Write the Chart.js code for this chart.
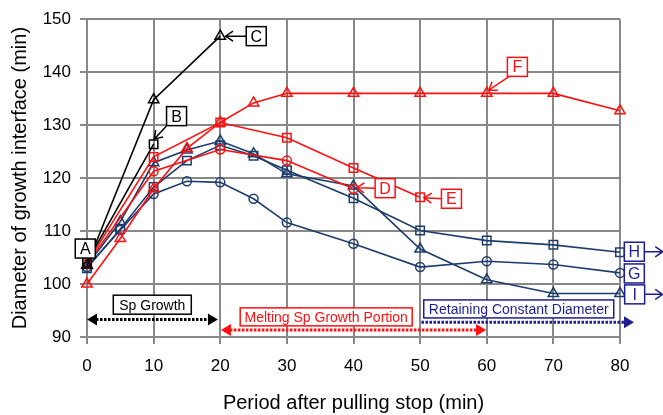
<!DOCTYPE html>
<html>
<head>
<meta charset="utf-8">
<script src="https://cdn.jsdelivr.net/npm/chart.js@4.4.1/dist/chart.umd.min.js"></script>
<style>
  html, body { margin: 0; padding: 0; background: #fff; }
  #wrap { width: 663px; height: 415px; }
</style>
</head>
<body>
<div id="wrap"><canvas id="chart" width="663" height="415"></canvas></div>
<script>
// period after pulling stop (min)
const timesFull = [0, 5, 10, 15, 20, 25, 30, 40, 50, 60, 70, 80];
const timesB = [0, 10];
const timesC = [0, 10, 20];
const timesD = [0, 10, 20, 30, 40];
const timesE = [0, 10, 20, 30, 40, 50];

// diameter of growth interface
const diamB = [104.2, 126.4];
const diamC = [103.6, 134.8, 146.8];
const diamD = [103.8, 121.3, 125.4, 123.3, 118.0];
const diamE = [104.0, 124.0, 130.5, 127.6, 121.9, 116.4];
const diamF = [100.0, 108.6, 118.0, 125.6, 130.5, 134.2, 136.0, 136.0, 136.0, 136.0, 136.0, 132.7];
const diamG = [103.2, 110.2, 117.0, 119.4, 119.2, 116.1, 111.6, 107.6, 103.2, 104.3, 103.7, 102.1];
const diamH = [103.0, 110.4, 118.3, 123.3, 126.2, 124.2, 121.5, 116.2, 110.1, 108.2, 107.4, 106.0];
const diamI = [103.5, 111.8, 122.9, 125.3, 127.0, 124.6, 120.8, 118.5, 106.6, 100.8, 98.2, 98.2];

const letterNames = ['A', 'B', 'C', 'D', 'E', 'F', 'G', 'H', 'I'];
const phaseNames = ['Sp Growth', 'Melting Sp Growth Portion', 'Retaining Constant Diameter'];

const BLACK = '#000000';
const RED = '#ff1010';
const BLUE = '#1d3c6e';
const NAVY = '#1e1e8e';
const GRID = '#888888';
const FONT = '"Liberation Sans", Arial, sans-serif';

function pts(xs, ys) {
  return xs.map((x, i) => ({ x: x, y: ys[i] }));
}

function series(label, xs, ys, color, style, r) {
  return {
    label: label,
    data: pts(xs, ys),
    borderColor: color,
    backgroundColor: 'transparent',
    borderWidth: 1.6,
    pointStyle: style,
    pointRadius: r,
    pointBorderWidth: 1.5,
    pointBorderColor: color,
    pointBackgroundColor: 'transparent',
    tension: 0,
    clip: false,
  };
}

const datasets = [
  series('B', timesB, diamB, BLACK, 'rect', 6),
  series('C', timesC, diamC, BLACK, 'triangle', 6),
  series('D', timesD, diamD, RED, 'circle', 4.5),
  series('E', timesE, diamE, RED, 'rect', 6),
  series('F', timesFull, diamF, RED, 'triangle', 6),
  series('G', timesFull, diamG, BLUE, 'circle', 4.5),
  series('H', timesFull, diamH, BLUE, 'rect', 6),
  series('I', timesFull, diamI, BLUE, 'triangle', 6),
];

// letter callouts: box centre and optional arrow, in data units
const callouts = [
  { i: 0, color: BLACK, x: -0.26, y: 106.7 },
  { i: 1, color: BLACK, x: 13.44, y: 131.7, arrow: [11.9, 129.8, 10.1, 127.4] },
  { i: 2, color: BLACK, x: 25.4, y: 146.8, arrow: [23.9, 146.8, 20.8, 146.8] },
  { i: 3, color: RED, x: 44.75, y: 118.1, arrow: [43.25, 118.1, 40.5, 118.2] },
  { i: 4, color: RED, x: 54.7, y: 116.1, arrow: [53.3, 116.1, 50.6, 116.3] },
  { i: 5, color: RED, x: 64.6, y: 141.0, arrow: [63.5, 139.3, 60.3, 136.6] },
  { i: 6, color: NAVY, x: 82.15, y: 102.0 },
  { i: 7, color: NAVY, x: 82.15, y: 106.1, arrow: [83.65, 106.1, 86.4, 106.1] },
  { i: 8, color: NAVY, x: 82.2, y: 98.05, arrow: [83.7, 98.05, 86.4, 98.05] },
];

// phase labels with dotted range arrows
const phases = [
  { i: 0, color: BLACK, x: 9.8, y: 96.1, w: 78, h: 19, from: 0, to: 19.65, ay: 93.3, both: true },
  { i: 1, color: RED, x: 35.9, y: 93.8, w: 172, h: 18, from: 20.1, to: 59.9, ay: 91.3, both: true },
  { i: 2, color: NAVY, x: 64.8, y: 95.3, w: 190, h: 18, from: 50.2, to: 82.1, ay: 92.8, both: false },
];

function openHead(ctx, x1, y1, x2, y2) {
  const a = Math.atan2(y2 - y1, x2 - x1);
  const len = 9, spread = 0.6;
  ctx.beginPath();
  ctx.moveTo(x1, y1);
  ctx.lineTo(x2, y2);
  ctx.moveTo(x2 - len * Math.cos(a - spread), y2 - len * Math.sin(a - spread));
  ctx.lineTo(x2, y2);
  ctx.lineTo(x2 - len * Math.cos(a + spread), y2 - len * Math.sin(a + spread));
  ctx.stroke();
}

function filledHead(ctx, x, y, dir) {
  ctx.beginPath();
  ctx.moveTo(x, y);
  ctx.lineTo(x - dir * 10, y - 6);
  ctx.lineTo(x - dir * 10, y + 6);
  ctx.closePath();
  ctx.fill();
}

const calloutPlugin = {
  id: 'callouts',
  afterDatasetsDraw(chart) {
    const ctx = chart.ctx;
    const sx = chart.scales.x, sy = chart.scales.y;
    ctx.save();
    ctx.textAlign = 'center';
    ctx.textBaseline = 'middle';

    callouts.forEach(c => {
      const px = sx.getPixelForValue(c.x), py = sy.getPixelForValue(c.y);
      ctx.strokeStyle = c.color;
      ctx.fillStyle = c.color;
      ctx.lineWidth = 1.5;
      if (c.arrow) {
        openHead(ctx, sx.getPixelForValue(c.arrow[0]), sy.getPixelForValue(c.arrow[1]),
          sx.getPixelForValue(c.arrow[2]), sy.getPixelForValue(c.arrow[3]));
      }
      ctx.fillStyle = '#fff';
      ctx.fillRect(px - 10, py - 9.5, 20, 19);
      ctx.strokeRect(px - 10, py - 9.5, 20, 19);
      ctx.fillStyle = c.color;
      ctx.font = '16px ' + FONT;
      ctx.fillText(letterNames[c.i], px, py + 1);
    });

    phases.forEach(p => {
      const px = sx.getPixelForValue(p.x), py = sy.getPixelForValue(p.y);
      const x1 = sx.getPixelForValue(p.from), x2 = sx.getPixelForValue(p.to);
      const ay = sy.getPixelForValue(p.ay);
      ctx.strokeStyle = p.color;
      ctx.fillStyle = p.color;
      ctx.lineWidth = 3;
      ctx.setLineDash([2.5, 1.5]);
      ctx.beginPath();
      ctx.moveTo(p.both ? x1 + 9 : x1, ay);
      ctx.lineTo(x2 - 9, ay);
      ctx.stroke();
      ctx.setLineDash([]);
      filledHead(ctx, x2, ay, 1);
      if (p.both) filledHead(ctx, x1, ay, -1);

      ctx.lineWidth = 1.5;
      ctx.fillStyle = '#fff';
      ctx.fillRect(px - p.w / 2, py - p.h / 2, p.w, p.h);
      ctx.strokeRect(px - p.w / 2, py - p.h / 2, p.w, p.h);
      ctx.fillStyle = p.color;
      ctx.font = '14px ' + FONT;
      ctx.fillText(phaseNames[p.i], px, py + 1);
    });
    ctx.restore();
  }
};

Chart.defaults.font.family = FONT;
Chart.defaults.color = '#000';

new Chart(document.getElementById('chart').getContext('2d'), {
  type: 'line',
  data: { datasets: datasets },
  options: {
    responsive: false,
    animation: false,
    devicePixelRatio: 1,
    layout: { padding: { top: 18, right: 43, left: 0, bottom: 0 } },
    plugins: { legend: { display: false }, tooltip: { enabled: false } },
    scales: {
      x: {
        type: 'linear',
        min: 0,
        max: 80,
        ticks: { stepSize: 10, font: { size: 17 }, padding: 12, color: '#000' },
        grid: { color: GRID, lineWidth: 2, tickLength: 7 },
        border: { color: GRID, width: 2 },
        title: { display: true, text: 'Period after pulling stop (min)', font: { size: 20 }, color: '#000', padding: { top: 0, bottom: 0 } },
        afterFit: s => { s.height = 78; },
      },
      y: {
        type: 'linear',
        min: 90,
        max: 150,
        ticks: { stepSize: 10, font: { size: 17 }, padding: 9, color: '#000' },
        grid: { color: GRID, lineWidth: 2, tickLength: 7 },
        border: { color: GRID, width: 2 },
        title: { display: true, text: 'Diameter of growth interface (min)', font: { size: 20 }, color: '#000', padding: { top: 8, bottom: 0 } },
        afterFit: s => { s.width = 87; },
      },
    },
  },
  plugins: [calloutPlugin],
});
</script>
</body>
</html>
